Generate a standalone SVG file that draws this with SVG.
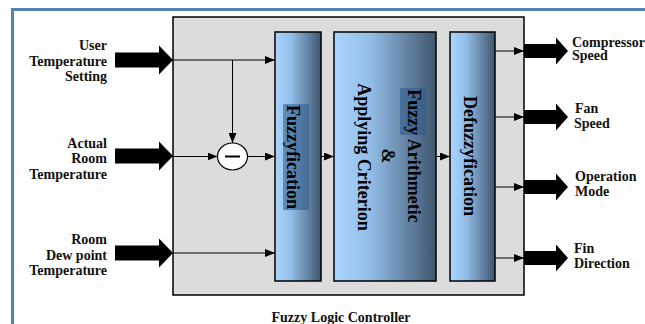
<svg xmlns="http://www.w3.org/2000/svg" width="645" height="324" viewBox="0 0 645 324">
  <defs>
    <linearGradient id="blockFill" x1="0" y1="0" x2="1" y2="0">
      <stop offset="0" stop-color="#a9d5ff"/>
      <stop offset="0.35" stop-color="#93bee8"/>
      <stop offset="1" stop-color="#3f566e"/>
    </linearGradient>
    <marker id="tip" markerUnits="userSpaceOnUse" markerWidth="10" markerHeight="8" refX="10" refY="4" orient="auto">
      <path d="M0,0 L10,4 L0,8 Z" fill="#000"/>
    </marker>
    <!-- wide block arrows, drawn pointing right from the origin -->
    <path id="inArrow" d="M0,-7.5 H44 V-14.5 L58,0 L44,14.5 V7.5 H0 Z"/>
    <path id="outArrow" d="M0,-7 H32 V-13.5 L44,0 L32,13.5 V7 H0 Z"/>
  </defs>
  <style>
    .frame { fill: none; stroke: #4f81bd; stroke-width: 3; }
    .panel { fill: #dcdcdc; stroke: #000; stroke-width: 1.5; }
    .block { fill: url(#blockFill); stroke: #000; stroke-width: 1.5; }
    .wire { fill: none; stroke: #000; stroke-width: 1; }
    .wire-a { fill: none; stroke: #000; stroke-width: 1; marker-end: url(#tip); }
    .big { fill: #000; }
    .lbl { font-family: "Liberation Serif", "Times New Roman", serif; font-weight: bold; font-size: 14px; fill: #111; }
    .vt { font-family: "Liberation Serif", "Times New Roman", serif; font-weight: bold; font-size: 18px; fill: #000; text-anchor: middle; }
    .hl { fill: #2e5a8a; opacity: 0.55; }
  </style>

  <rect width="645" height="324" fill="#fff"/>
  <!-- outer page frame -->
  <path class="frame" d="M12.5,330 V9.5 H650"/>

  <!-- controller panel -->
  <g id="controller">
    <rect class="panel" x="173" y="17" width="351" height="278"/>
    <text class="lbl" x="341" y="322" text-anchor="middle">Fuzzy Logic Controller</text>
  </g>

  <!-- inputs -->
  <g id="input-user">
    <use href="#inArrow" class="big" x="115" y="60"/>
    <text class="lbl" text-anchor="end"><tspan x="107" y="50">User</tspan><tspan x="107" y="65.7">Temperature</tspan><tspan x="107" y="81">Setting</tspan></text>
  </g>
  <g id="input-room">
    <use href="#inArrow" class="big" x="115" y="156"/>
    <text class="lbl" text-anchor="end"><tspan x="107" y="147.7">Actual</tspan><tspan x="107" y="163.3">Room</tspan><tspan x="107" y="178.5">Temperature</tspan></text>
  </g>
  <g id="input-dew">
    <use href="#inArrow" class="big" x="115" y="253"/>
    <text class="lbl" text-anchor="end"><tspan x="107" y="244.3">Room</tspan><tspan x="107" y="260">Dew point</tspan><tspan x="107" y="275.3">Temperature</tspan></text>
  </g>

  <!-- subtraction junction -->
  <g id="subtract">
    <ellipse cx="232.5" cy="156.5" rx="15" ry="13.5" fill="#fff" stroke="#000" stroke-width="1.2"/>
    <line x1="225" y1="156.5" x2="240" y2="156.5" stroke="#000" stroke-width="2"/>
  </g>

  <!-- processing blocks -->
  <g id="fuzzyfication">
    <rect class="block" x="275" y="32" width="46" height="249"/>
    <rect class="hl" x="283" y="104" width="26" height="106"/>
    <text class="vt" transform="translate(287,157) rotate(90)">Fuzzyfication</text>
  </g>
  <g id="arithmetic">
    <rect class="block" x="334" y="32" width="102" height="249"/>
    <rect class="hl" x="400" y="88" width="26" height="47"/>
    <text class="vt" transform="translate(408,156) rotate(90)">Fuzzy Arithmetic</text>
    <text class="vt" transform="translate(382,156) rotate(90)">&amp;</text>
    <text class="vt" transform="translate(358,157) rotate(90)">Applying Criterion</text>
  </g>
  <g id="defuzzyfication">
    <rect class="block" x="450" y="32" width="45" height="249"/>
    <text class="vt" transform="translate(464,156) rotate(90)">Defuzzyfication</text>
  </g>

  <!-- outputs -->
  <g id="output-compressor">
    <use href="#outArrow" class="big" x="524" y="51"/>
    <text class="lbl"><tspan x="572" y="46.5">Compressor</tspan><tspan x="572" y="60">Speed</tspan></text>
  </g>
  <g id="output-fan">
    <use href="#outArrow" class="big" x="524" y="117"/>
    <text class="lbl"><tspan x="575" y="113">Fan</tspan><tspan x="574" y="128">Speed</tspan></text>
  </g>
  <g id="output-mode">
    <use href="#outArrow" class="big" x="524" y="187"/>
    <text class="lbl"><tspan x="575" y="181">Operation</tspan><tspan x="575" y="196">Mode</tspan></text>
  </g>
  <g id="output-fin">
    <use href="#outArrow" class="big" x="524" y="258"/>
    <text class="lbl"><tspan x="574" y="253">Fin</tspan><tspan x="574" y="268.3">Direction</tspan></text>
  </g>

  <!-- signal connectors -->
  <g id="connectors">
    <line class="wire-a" x1="173" y1="60" x2="275" y2="60"/>
    <line class="wire-a" x1="232.5" y1="60" x2="232.5" y2="143"/>
    <line class="wire-a" x1="173" y1="156.5" x2="217.5" y2="156.5"/>
    <line class="wire-a" x1="247.5" y1="156.5" x2="275" y2="156.5"/>
    <line class="wire-a" x1="173" y1="253" x2="275" y2="253"/>
    <line class="wire-a" x1="321" y1="156.5" x2="334" y2="156.5"/>
    <line class="wire-a" x1="436" y1="156.5" x2="450" y2="156.5"/>
    <line class="wire-a" x1="495" y1="51" x2="524" y2="51"/>
    <line class="wire-a" x1="495" y1="117" x2="524" y2="117"/>
    <line class="wire-a" x1="495" y1="187" x2="524" y2="187"/>
    <line class="wire-a" x1="495" y1="258" x2="524" y2="258"/>
  </g>
</svg>
